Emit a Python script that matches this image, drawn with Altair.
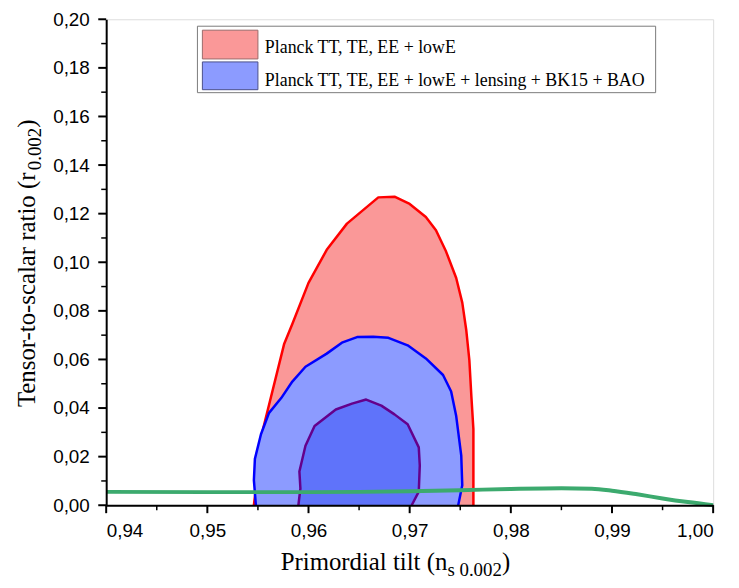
import altair as alt
import pandas as pd

# ---- data ----
RED_NS = [0.9546, 0.9555, 0.9576, 0.9584, 0.9600, 0.9618, 0.9638, 0.9669, 0.9685, 0.9700,
          0.9716, 0.9726, 0.9736, 0.9746, 0.9752, 0.9756, 0.9759, 0.9761, 0.9763, 0.9763]
RED_R = [0.0, 0.0313, 0.0665, 0.0746, 0.0915, 0.1051, 0.1159, 0.1267, 0.1270, 0.1240,
         0.1186, 0.1132, 0.1044, 0.0935, 0.0834, 0.0719, 0.0597, 0.0448, 0.0313, 0.0]

BLUE_NS = [0.9548, 0.9546, 0.9547, 0.9553, 0.9561, 0.9573, 0.9584, 0.9597, 0.9618, 0.9633,
           0.9648, 0.9664, 0.9679, 0.9698, 0.9716, 0.9733, 0.9741, 0.9746, 0.9751, 0.9752, 0.9748]
BLUE_R = [0.0, 0.0103, 0.0191, 0.0292, 0.0380, 0.0441, 0.0509, 0.0570, 0.0624, 0.0669,
          0.0692, 0.0693, 0.0689, 0.0658, 0.0604, 0.0536, 0.0468, 0.0367, 0.0204, 0.0082, 0.0]

INNER_NS = [0.9590, 0.9592, 0.9591, 0.9597, 0.9606, 0.9627, 0.9643, 0.9657, 0.9672, 0.9685,
            0.9698, 0.9709, 0.9710, 0.9709, 0.9702]
INNER_R = [0.0, 0.0069, 0.0139, 0.0245, 0.0326, 0.0394, 0.0418, 0.0435, 0.0410, 0.0374,
           0.0333, 0.0238, 0.0164, 0.0056, 0.0]

GREEN_NS = [0.94, 0.95, 0.96, 0.965, 0.97, 0.975, 0.98, 0.985, 0.988, 0.99, 0.9925, 0.995, 0.9975, 1.00]
GREEN_R = [0.0055, 0.0054, 0.0054, 0.0055, 0.0058, 0.0062, 0.0067, 0.0070, 0.0068, 0.0060,
           0.0045, 0.0028, 0.0013, 0.0]

X_TICKS = [0.94, 0.95, 0.96, 0.97, 0.98, 0.99, 1.00]
X_MINOR = [0.945, 0.955, 0.965, 0.975, 0.985, 0.995]
Y_TICKS = [0.00, 0.02, 0.04, 0.06, 0.08, 0.10, 0.12, 0.14, 0.16, 0.18, 0.20]
Y_MINOR = [0.01, 0.03, 0.05, 0.07, 0.09, 0.11, 0.13, 0.15, 0.17, 0.19]

LEGEND_LABELS = ["Planck TT, TE, EE + lowE",
                 "Planck TT, TE, EE + lowE + lensing + BK15 + BAO"]

W, H = 612, 490

def frame(xs, ys):
    return pd.DataFrame({"ns": xs, "r": ys, "i": list(range(len(xs)))})

xs = alt.Scale(domain=[0.94, 1.00], nice=False, zero=False)
ys = alt.Scale(domain=[0.0, 0.20], nice=False)
lab = "replace(format(datum.value, '.2f'), '.', ',')"

xaxis = alt.Axis(values=X_TICKS, labelExpr=lab, title=None, grid=False,
                 domainColor="black", domainWidth=2, ticks=False, tickSize=0,
                 labelFont="Liberation Sans", labelFontSize=19,
                 labelColor="black", labelPadding=17, zindex=1)
yaxis = alt.Axis(values=Y_TICKS, labelExpr=lab, title=None, grid=False,
                 domainColor="black", domainWidth=2, ticks=False, tickSize=0,
                 labelFont="Liberation Sans", labelFontSize=19,
                 labelColor="black", labelPadding=17, zindex=1)

def contour(df, fill, stroke):
    return alt.Chart(df).mark_line(fill=fill, stroke=stroke, strokeWidth=2.5,
                                   strokeJoin="round").encode(
        x=alt.X("ns:Q", scale=xs, axis=xaxis),
        y=alt.Y("r:Q", scale=ys, axis=yaxis),
        order=alt.Order("i:Q"),
    )

red = contour(frame(RED_NS, RED_R), "#FA9898", "#FF0000")
blue = contour(frame(BLUE_NS, BLUE_R), "#8C9BFF", "#0000FF")
inner = contour(frame(INNER_NS, INNER_R), "#5F73FA", "#64008C")

green = alt.Chart(frame(GREEN_NS, GREEN_R)).mark_line(
    stroke="#3CAA6E", strokeWidth=4, interpolate="monotone").encode(
    x=alt.X("ns:Q", scale=xs, axis=xaxis),
    y=alt.Y("r:Q", scale=ys, axis=yaxis),
    order=alt.Order("i:Q"),
)

def xticks(vals, length, width):
    return alt.Chart(pd.DataFrame({"v": vals})).mark_rule(
        color="black", strokeWidth=width).encode(
        x=alt.X("v:Q", scale=xs, axis=xaxis),
        y=alt.value(H), y2=alt.value(H + length))

def yticks(vals, length, width):
    return alt.Chart(pd.DataFrame({"v": vals})).mark_rule(
        color="black", strokeWidth=width).encode(
        y=alt.Y("v:Q", scale=ys, axis=yaxis),
        x=alt.value(0), x2=alt.value(-length))

xmaj = xticks(X_TICKS, 8, 2)
xmin = xticks(X_MINOR, 5, 1.5)
ymaj = yticks(Y_TICKS, 8, 2)
ymin = yticks(Y_MINOR, 5, 1.5)

# legend
leg_box = alt.Chart(pd.DataFrame({"a": [0]})).mark_rect(
    fill="white", stroke="#7A7A7A", strokeWidth=1).encode(
    x=alt.value(92), x2=alt.value(554), y=alt.value(7), y2=alt.value(74))
sw1 = alt.Chart(pd.DataFrame({"a": [0]})).mark_rect(
    fill="#FA9898", stroke="#9A6A6A", strokeWidth=1).encode(
    x=alt.value(97), x2=alt.value(153), y=alt.value(11), y2=alt.value(40))
sw2 = alt.Chart(pd.DataFrame({"a": [0]})).mark_rect(
    fill="#8C9BFF", stroke="#4A4F8A", strokeWidth=1).encode(
    x=alt.value(97), x2=alt.value(153), y=alt.value(43), y2=alt.value(71))
leg_txt = alt.Chart(pd.DataFrame({"t": LEGEND_LABELS, "yy": [34, 67]})).mark_text(
    font="Liberation Serif", fontSize=18, align="left", baseline="alphabetic",
    color="black").encode(
    x=alt.value(160), y=alt.Y("yy:Q", scale=None), text="t:N")

def txt(s, x, y, size, angle=0):
    return alt.Chart(pd.DataFrame({"t": [s]})).mark_text(
        font="Liberation Serif", fontSize=size, align="left", baseline="alphabetic",
        angle=angle, color="black").encode(
        x=alt.value(x), y=alt.value(y), text="t:N")

xt1 = txt("Primordial tilt (n", 176, 555, 25)
xt2 = txt("s 0.002", 344.1, 561, 19)
xt3 = txt(")", 399, 555, 25)
yt1 = txt("Tensor-to-scalar ratio (r", -72, 391, 25, angle=270)
yt2 = txt("0.002", -66, 152.2, 19, angle=270)
yt3 = txt(")", -72, 109.5, 25, angle=270)

chart = alt.layer(
    red, blue, inner, green, xmaj, xmin, ymaj, ymin,
    leg_box, sw1, sw2, leg_txt,
    xt1, xt2, xt3, yt1, yt2, yt3,
).properties(
    width=W, height=H,
    autosize=alt.AutoSizeParams(type="none"),
    padding={"left": 99, "top": 9, "right": 18, "bottom": 72},
).configure_view(strokeWidth=0).configure(background="white")

chart.save("out.html", embed_options={"renderer": "svg", "actions": False})
